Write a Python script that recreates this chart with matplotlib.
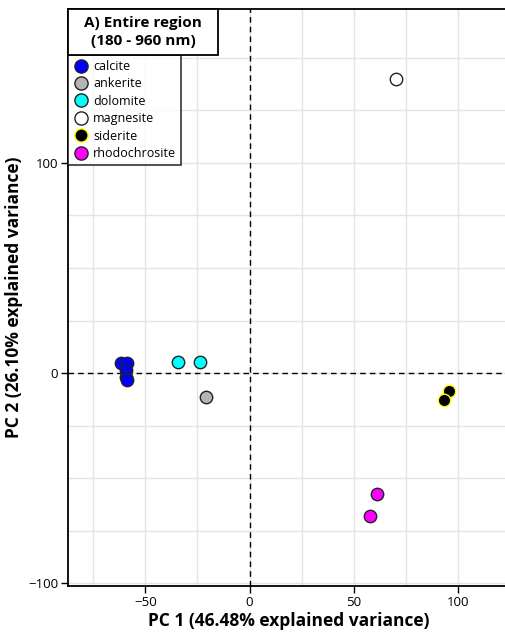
import matplotlib
matplotlib.use("Agg")
import matplotlib.pyplot as plt
from matplotlib.lines import Line2D
from matplotlib.patches import Rectangle

plt.rcParams['font.family'] = ['Open Sans', 'DejaVu Sans']

# data
minerals = ['calcite', 'ankerite', 'dolomite', 'magnesite', 'siderite', 'rhodochrosite']
face = ['#0000ff', '#b4b4b4', '#00ffff', '#ffffff', '#000000', '#ff00ff']
edge = ['#222222', '#222222', '#222222', '#222222', '#ffff00', '#222222']
pc1 = {
    'calcite': [-61.9, -58.6, -59.5, -59.5, -58.6],
    'ankerite': [-21.0],
    'dolomite': [-34.3, -23.8],
    'magnesite': [70.5],
    'siderite': [95.7, 93.3],
    'rhodochrosite': [61.0, 58.0],
}
pc2 = {
    'calcite': [4.8, 4.8, 1.4, -1.9, -3.3],
    'ankerite': [-11.4],
    'dolomite': [5.2, 5.2],
    'magnesite': [140.0],
    'siderite': [-8.6, -12.9],
    'rhodochrosite': [-57.6, -68.0],
}

W, H = 505, 635
fig = plt.figure(figsize=(W / 100, H / 100), dpi=100)
ax = fig.add_axes([68 / W, (H - 586) / H, (510 - 68) / W, (586 - 9) / H])
ax.set_axisbelow(True)

ax.set_xlim(-87.1, 123)
ax.set_ylim(-101.4, 173.3)
ax.set_xticks([-50, 0, 50, 100])
ax.set_yticks([-100, 0, 100])
ax.set_xticks([-75, -25, 25, 75, 125], minor=True)
ax.set_yticks([-75, -50, -25, 25, 50, 75, 125, 150], minor=True)
ax.grid(True, which='both', color='#e4e4e4', lw=1)
ax.tick_params(which='minor', length=0)
ax.tick_params(which='major', direction='out', length=5, width=1, labelsize=9.5, pad=2)

ax.axhline(0, color='black', ls=(0, (4, 3)), lw=1, zorder=2)
ax.axvline(0, color='black', ls=(0, (4, 3)), lw=1, zorder=2)

for m, fc, ec in zip(minerals, face, edge):
    ax.scatter(pc1[m], pc2[m], s=80, c=fc, edgecolors=ec, linewidths=1.0, zorder=3)

for s in ax.spines.values():
    s.set_linewidth(1.3)
ax.spines['right'].set_visible(False)

ax.set_xlabel('PC 1 (46.48% explained variance)', fontsize=12.5, fontweight='bold', labelpad=2)
ax.set_ylabel('PC 2 (26.10% explained variance)', fontsize=12.5, fontweight='bold', labelpad=4)

# title box (pixel coordinates of the box in the figure)
x0, x1, y0, y1 = 68, 218, 9, 55
fig.patches.append(Rectangle((x0 / W, 1 - y1 / H), (x1 - x0) / W, (y1 - y0) / H,
                             transform=fig.transFigure, fc='white', ec='black',
                             lw=1.3, zorder=5))
fig.text((x0 + x1) / 2 / W, 1 - (y0 + y1) / 2 / H, 'A) Entire region\n(180 - 960 nm)',
         ha='center', va='center', fontsize=11, fontweight='bold', linespacing=1.35,
         zorder=6)

handles = [Line2D([], [], ls='', marker='o', markersize=9.5, markerfacecolor=fc,
                  markeredgecolor=ec, markeredgewidth=1.0) for fc, ec in zip(face, edge)]
leg = ax.legend(handles, minerals, loc='upper left', bbox_to_anchor=(0.0, 1 - 46 / 577),
                frameon=True, fancybox=False, edgecolor='black', fontsize=9,
                handletextpad=0.4, borderpad=0.4, labelspacing=0.35, handlelength=1.2,
                borderaxespad=0)
leg.get_frame().set_linewidth(1.2)
leg.set_zorder(6)

fig.savefig('out.png', dpi=100)
